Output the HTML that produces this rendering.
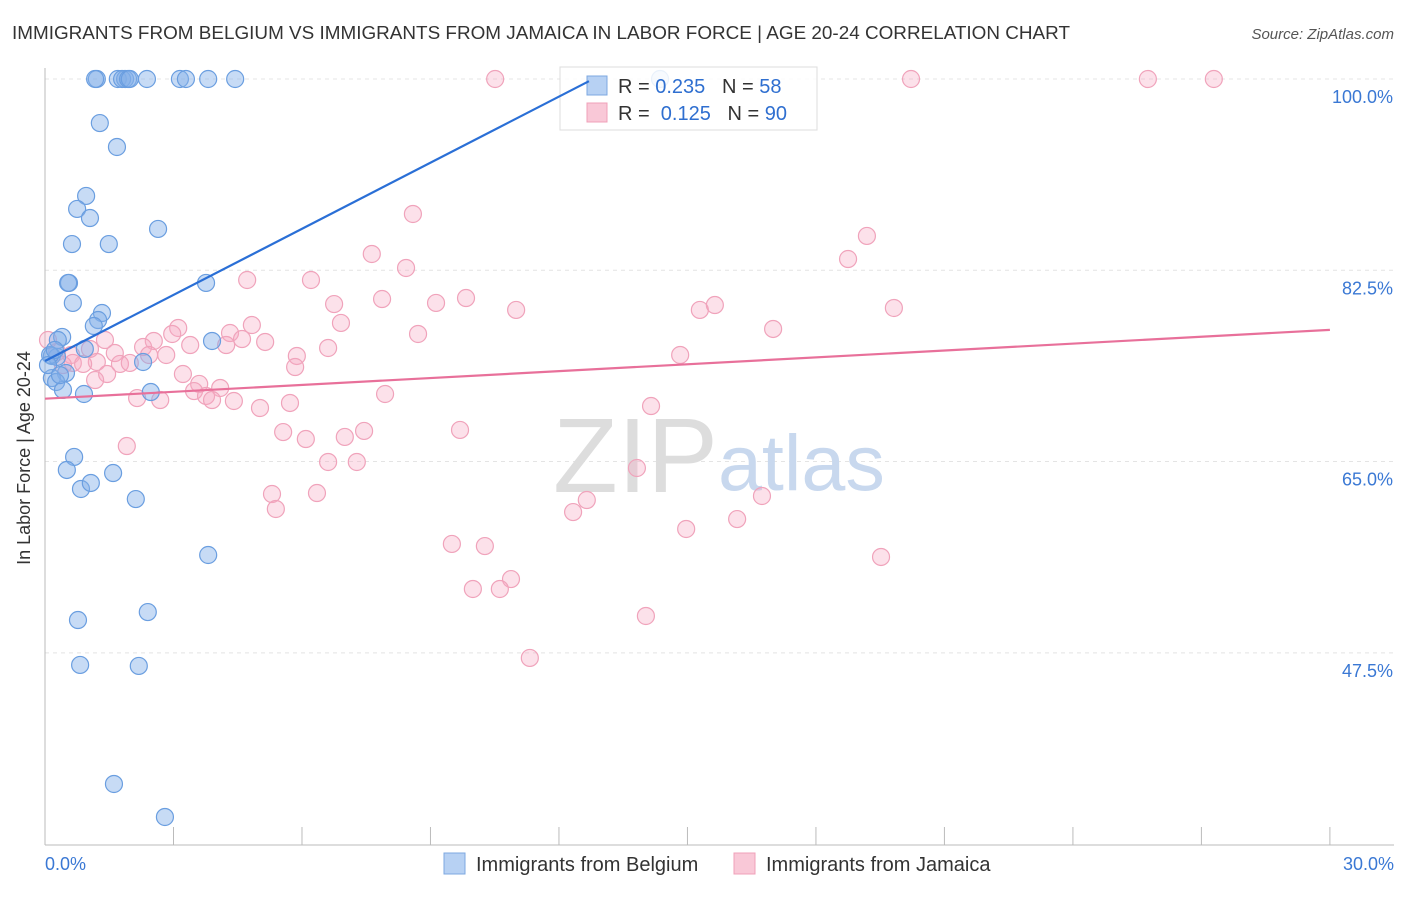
<!DOCTYPE html>
<html><head><meta charset="utf-8"><style>
body{margin:0;background:#fff;font-family:"Liberation Sans",sans-serif;}
svg text{font-family:"Liberation Sans",sans-serif;}
</style></head><body>
<svg width="1406" height="892" xmlns="http://www.w3.org/2000/svg">
<text x="12" y="39" font-size="18.5" fill="#333" textLength="1058" lengthAdjust="spacingAndGlyphs">IMMIGRANTS FROM BELGIUM VS IMMIGRANTS FROM JAMAICA IN LABOR FORCE | AGE 20-24 CORRELATION CHART</text>
<text x="1394" y="39" font-size="15" fill="#555" text-anchor="end" font-style="italic">Source: ZipAtlas.com</text>
<g id="grid"></g>
<g id="axes"></g>
<text x="553" y="492" font-size="106" fill="#ddd" font-family="Liberation Serif">ZIP</text>
<text x="718" y="490" font-size="79" fill="#c8d8ee">atlas</text>
<g id="pink"></g>
<g id="blue"></g>
<text x="30" y="458" font-size="18" fill="#333" transform="rotate(-90 30 458)" text-anchor="middle">In Labor Force | Age 20-24</text>
<g>
<rect x="560" y="67" width="257" height="63" fill="#fff" fill-opacity="0.85" stroke="#ddd"/>
<rect x="587" y="76" width="20" height="19" fill="#b7d1f3" stroke="#7ea8e0"/>
<rect x="587" y="103" width="20" height="19" fill="#f9c8d7" stroke="#f0a0b8"/>
<text x="618" y="93" font-size="20" fill="#333">R = <tspan fill="#2f6fd0">0.235</tspan>&#160;&#160;&#160;N = <tspan fill="#2f6fd0">58</tspan></text>
<text x="618" y="120" font-size="20" fill="#333">R = &#160;<tspan fill="#2f6fd0">0.125</tspan>&#160;&#160;&#160;N = <tspan fill="#2f6fd0">90</tspan></text>
</g>
<g id="trends"></g>
<g>
<rect x="444" y="853" width="21" height="21" fill="#b7d1f3" stroke="#7ea8e0"/>
<text x="476" y="871" font-size="20" fill="#333">Immigrants from Belgium</text>
<rect x="734" y="853" width="21" height="21" fill="#f9c8d7" stroke="#f0a0b8"/>
<text x="766" y="871" font-size="20" fill="#333">Immigrants from Jamaica</text>
</g>
</svg>
<script>
const yTicks=[100,82.5,65,47.5];
const yTickLabels=["100.0%","82.5%","65.0%","47.5%"];
const xTickLabels=["0.0%","30.0%"];
const blueX=[1.21,1.17,1.70,1.87,1.80,1.94,1.98,2.38,3.15,3.29,3.81,4.44,1.28,1.68,0.96,0.75,1.05,0.63,1.49,2.64,0.56,0.54,3.76,0.65,1.33,1.24,1.14,0.40,0.30,0.93,3.90,0.16,0.28,0.12,2.29,0.49,0.16,0.26,0.42,0.91,2.47,0.68,0.51,1.59,0.84,1.07,2.12,3.81,0.77,2.40,0.82,2.19,1.61,2.80,0.07,0.35,14.36,0.23];
const blueY=[100,100,100,100,100,100,100,100,100,100,100,100,95.97,93.78,89.30,88.11,87.28,84.90,84.90,86.28,81.34,81.34,81.34,79.51,78.59,77.95,77.40,76.40,76.12,75.30,76.03,74.66,74.57,74.75,74.11,73.10,72.64,72.28,71.55,71.18,71.36,65.42,64.23,63.95,62.49,63.04,61.57,56.45,50.50,51.23,46.39,46.30,35.50,32.48,73.83,72.91,100,75.21];
const pinkX=[10.51,20.22,25.75,27.29,8.59,19.19,18.75,7.63,8.43,4.72,6.21,6.75,7.87,9.13,9.83,11.0,15.29,15.64,19.82,17.0,6.91,8.71,4.83,3.11,2.97,4.32,4.60,5.14,2.54,2.29,3.39,4.23,1.40,1.05,1.63,2.43,2.83,0.61,0.28,1.21,1.75,1.98,0.65,0.89,1.45,1.17,5.88,5.84,6.61,14.83,3.22,3.60,4.09,3.48,3.76,2.15,2.69,3.90,4.41,5.02,5.72,7.94,14.15,9.69,7.45,5.56,6.09,7.0,6.61,7.28,13.82,1.91,5.30,6.35,5.39,12.65,12.33,16.74,16.16,14.97,9.50,10.27,19.52,10.88,9.99,10.62,14.03,11.32,0.07,0.42];
const pinkY=[100,100,100,100,87.65,85.64,83.53,83.99,82.71,81.61,81.61,79.41,79.87,79.51,79.96,78.87,78.87,79.32,79.05,77.13,77.68,76.67,77.49,77.22,76.67,76.76,76.21,75.94,76.03,75.48,75.66,75.66,76.12,75.30,74.93,74.75,74.75,74.75,75.02,74.11,73.93,74.02,74.02,73.93,73.01,72.46,74.66,73.65,75.39,74.75,73.01,72.10,71.73,71.45,71.0,70.81,70.63,70.63,70.54,69.90,70.36,71.18,70.08,67.89,67.80,67.70,67.06,67.25,64.96,64.96,64.41,66.42,62.03,62.12,60.66,61.48,60.38,61.85,59.74,58.83,57.46,57.27,56.27,54.25,53.34,53.34,50.87,47.03,76.12,73.83];
const blueTrend=[74.2,99.8]; const blueTrendX=[0,12.7];
const pinkTrend=[70.75,77.05]; const pinkTrendX=[0,30];
const NS="http://www.w3.org/2000/svg";
const sx=v=>45+v*42.83, sy=v=>79+(100-v)*10.93;
function mk(t,a,p){const e=document.createElementNS(NS,t);for(const k in a)e.setAttribute(k,a[k]);p.appendChild(e);return e;}
const grid=document.getElementById('grid'),axes=document.getElementById('axes');
yTicks.forEach((v,i)=>{
 const l=mk('line',{x1:45,x2:1394,y1:sy(v),y2:sy(v),stroke:'#e4e4e4','stroke-dasharray':'4 4'},grid);
 
 
 const t=mk('text',{x:1393,y:sy(v)+24,'font-size':18,fill:'#3a78d4','text-anchor':'end'},axes);
 t.textContent=yTickLabels[i];
 
 
});
mk('line',{x1:45,x2:45,y1:68,y2:845,stroke:'#bbb'},axes);
mk('line',{x1:45,x2:1394,y1:845,y2:845,stroke:'#bbb'},axes);
for(let i=1;i<=10;i++){const l=mk('line',{x1:sx(i*3),x2:sx(i*3),y1:827,y2:845,stroke:'#bbb'},axes);
 
 }
[[0,'start',45],[30,'end',1394]].forEach((d,i)=>{const t=mk('text',{x:d[2],y:870,'font-size':18,fill:'#3a78d4','text-anchor':d[1]},axes);t.textContent=xTickLabels[i];
 
 });
const pg=document.getElementById('pink');
pinkX.forEach((x,i)=>{const c=mk('circle',{cx:sx(x),cy:sy(pinkY[i]),r:8.5,fill:'rgba(246,170,196,0.35)',stroke:'#f0a3bb','stroke-width':1.2},pg);
 
 });
const bg=document.getElementById('blue');
blueX.forEach((x,i)=>{const c=mk('circle',{cx:sx(x),cy:sy(blueY[i]),r:8.5,fill:'rgba(130,175,232,0.45)',stroke:'#6a9ee0','stroke-width':1.2},bg);
 
 });
const tg=document.getElementById('trends');
const bl=mk('line',{x1:sx(blueTrendX[0]),y1:sy(blueTrend[0]),x2:sx(blueTrendX[1]),y2:sy(blueTrend[1]),stroke:'#2a6fd6','stroke-width':2.2},tg);


const pl=mk('line',{x1:sx(pinkTrendX[0]),y1:sy(pinkTrend[0]),x2:sx(pinkTrendX[1]),y2:sy(pinkTrend[1]),stroke:'#e8709a','stroke-width':2.2},tg);


</script>
</body></html>
